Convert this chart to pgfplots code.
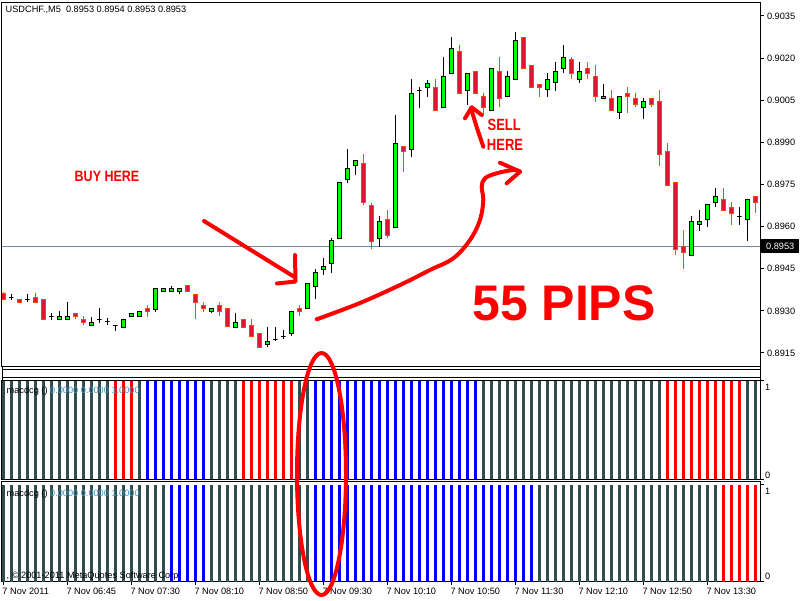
\documentclass[border=0pt]{standalone}
\usepackage{pgfplots}
\pgfplotsset{compat=1.18}
\usepackage{pgfplotstable}
\usepackage{fontspec}
\setmainfont{Liberation Sans}
\definecolor{bullfill}{RGB}{0,255,0}
\definecolor{bearfill}{RGB}{220,20,60}
\definecolor{bearline}{RGB}{255,69,0}
\definecolor{dsg}{RGB}{47,79,79}
\definecolor{ired}{RGB}{255,0,0}
\definecolor{iblue}{RGB}{0,0,255}
\definecolor{bidline}{RGB}{119,136,153}
\definecolor{annot}{RGB}{255,0,0}
\definecolor{valcol}{RGB}{70,150,190}
\newcommand\mtf{\fontsize{9.2}{10}\selectfont}

% USDCHF M5 candles: index, open, high, low, close
\pgfplotstableread{
k O H L C
0 0.89363 0.89368 0.89339 0.89341
1 0.89349 0.89359 0.89339 0.89349
2 0.89341 0.89341 0.89331 0.89331
3 0.89342 0.89359 0.89331 0.89342
4 0.89348 0.89363 0.89331 0.89331
5 0.89341 0.89341 0.89270 0.89270
6 0.89279 0.89291 0.89268 0.89279
7 0.89270 0.89300 0.89270 0.89281
8 0.89270 0.89333 0.89270 0.89281
9 0.89291 0.89291 0.89270 0.89281
10 0.89270 0.89282 0.89250 0.89259
11 0.89249 0.89279 0.89249 0.89259
12 0.89270 0.89309 0.89256 0.89270
13 0.89263 0.89274 0.89250 0.89263
14 0.89249 0.89249 0.89229 0.89249
15 0.89242 0.89270 0.89242 0.89270
16 0.89281 0.89291 0.89281 0.89291
17 0.89281 0.89298 0.89281 0.89298
18 0.89309 0.89320 0.89279 0.89298
19 0.89306 0.89380 0.89297 0.89380
20 0.89370 0.89380 0.89370 0.89380
21 0.89370 0.89389 0.89370 0.89380
22 0.89370 0.89380 0.89359 0.89380
23 0.89389 0.89389 0.89370 0.89370
24 0.89360 0.89360 0.89270 0.89331
25 0.89320 0.89333 0.89297 0.89309
26 0.89298 0.89309 0.89291 0.89309
27 0.89320 0.89331 0.89281 0.89298
28 0.89309 0.89309 0.89242 0.89246
29 0.89242 0.89291 0.89242 0.89259
30 0.89270 0.89270 0.89242 0.89242
31 0.89249 0.89270 0.89209 0.89209
32 0.89220 0.89220 0.89170 0.89170
33 0.89181 0.89242 0.89170 0.89192
34 0.89199 0.89242 0.89192 0.89199
35 0.89209 0.89231 0.89199 0.89209
36 0.89220 0.89298 0.89209 0.89298
37 0.89309 0.89320 0.89281 0.89298
38 0.89308 0.89398 0.89308 0.89398
39 0.89386 0.89449 0.89341 0.89437
40 0.89448 0.89487 0.89428 0.89458
41 0.89469 0.89558 0.89436 0.89549
42 0.89558 0.89758 0.89558 0.89758
43 0.89769 0.89875 0.89756 0.89808
44 0.89818 0.89836 0.89784 0.89836
45 0.89826 0.89859 0.89677 0.89685
46 0.89676 0.89685 0.89519 0.89546
47 0.89558 0.89638 0.89529 0.89619
48 0.89626 0.89659 0.89558 0.89569
49 0.89598 0.89998 0.89598 0.89897
50 0.89887 0.89887 0.89796 0.89867
51 0.89875 0.90125 0.89847 0.90075
52 0.90085 0.90098 0.90021 0.90085
53 0.90096 0.90122 0.90063 0.90108
54 0.90096 0.90125 0.90014 0.90014
55 0.90025 0.90205 0.90025 0.90134
56 0.90146 0.90276 0.90146 0.90235
57 0.90225 0.90247 0.90075 0.90075
58 0.90084 0.90146 0.90033 0.90146
59 0.90153 0.90153 0.90075 0.90075
60 0.90063 0.90077 0.89994 0.90025
61 0.90014 0.90164 0.90014 0.90164
62 0.90153 0.90203 0.90025 0.90056
63 0.90063 0.90154 0.90063 0.90134
64 0.90125 0.90294 0.90125 0.90262
65 0.90274 0.90274 0.90164 0.90164
66 0.90174 0.90174 0.90096 0.90096
67 0.90107 0.90107 0.90063 0.90096
68 0.90087 0.90147 0.90063 0.90125
69 0.90114 0.90186 0.90084 0.90153
70 0.90164 0.90247 0.90146 0.90203
71 0.90196 0.90203 0.90125 0.90146
72 0.90125 0.90186 0.90113 0.90153
73 0.90164 0.90186 0.90125 0.90146
74 0.90135 0.90174 0.90045 0.90064
75 0.90056 0.90108 0.90056 0.90064
76 0.90057 0.90087 0.90014 0.90014
77 0.90007 0.90064 0.89984 0.90064
78 0.90075 0.90098 0.90006 0.90064
79 0.90057 0.90077 0.90025 0.90036
80 0.90025 0.90057 0.89984 0.90046
81 0.90057 0.90057 0.90025 0.90036
82 0.90046 0.90087 0.89817 0.89858
83 0.89868 0.89897 0.89747 0.89747
84 0.89758 0.89758 0.89498 0.89519
85 0.89530 0.89588 0.89448 0.89507
86 0.89498 0.89638 0.89498 0.89619
87 0.89608 0.89659 0.89586 0.89619
88 0.89626 0.89677 0.89598 0.89677
89 0.89685 0.89738 0.89669 0.89709
90 0.89697 0.89738 0.89658 0.89658
91 0.89669 0.89688 0.89607 0.89647
92 0.89637 0.89669 0.89607 0.89637
93 0.89626 0.89697 0.89548 0.89697
94 0.89708 0.89708 0.89647 0.89687
}\ohlc

\pgfplotsset{
  mtpanel/.style={
    scale only axis, width=758pt,
    xmin=-0.1625, xmax=94.5875,
    axis line style={line width=1pt, black},
    tick style={line width=1pt, black},
    tick align=outside, major tick length=3.5pt,
  },
  ind/.style={ycomb, line width=3pt, forget plot},
}

\begin{document}
\begin{tikzpicture}
\useasboundingbox (0,0) rectangle (800pt,600pt);
\fill[white] (0,0) rectangle (800pt,600pt);

% ---------------- main price chart ----------------
\begin{axis}[mtpanel,
  at={(2pt,597pt)}, anchor=north west, height=364pt,
  ymin=0.891001, ymax=0.903963,
  xtick=\empty,
  ytick={0.8915,0.8930,0.8945,0.8960,0.8975,0.8990,0.9005,0.9020,0.9035},
  yticklabels={0.8915,0.8930,0.8945,0.8960,0.8975,0.8990,0.9005,0.9020,0.9035},
  ytick pos=right, yticklabel pos=right,
  yticklabel style={anchor=west, font=\mtf, text=black},
]
\addplot[bidline, line width=1pt, forget plot] coordinates {(-1,0.8953) (96,0.8953)};
\pgfplotsforeachungrouped \i in {0,...,94}{%
  \pgfplotstablegetelem{\i}{k}\of\ohlc\edef\vk{\pgfplotsretval}%
  \pgfplotstablegetelem{\i}{O}\of\ohlc\edef\vO{\pgfplotsretval}%
  \pgfplotstablegetelem{\i}{H}\of\ohlc\edef\vH{\pgfplotsretval}%
  \pgfplotstablegetelem{\i}{L}\of\ohlc\edef\vL{\pgfplotsretval}%
  \pgfplotstablegetelem{\i}{C}\of\ohlc\edef\vC{\pgfplotsretval}%
  \pgfmathtruncatemacro\ctype{\vC>\vO ? 1 : (\vC<\vO ? 2 : 0)}%
  \ifnum\ctype=1 \def\wc{black}\def\fc{bullfill}\fi
  \ifnum\ctype=2 \def\wc{bearline}\def\fc{bearfill}\fi
  \ifnum\ctype=0 \def\wc{black}\def\fc{black}\fi
  \pgfmathsetmacro\xa{\vk-0.275}%
  \pgfmathsetmacro\xb{\vk+0.275}%
  \edef\cmd{%
    \noexpand\addplot[draw=\wc, line width=1pt, forget plot] coordinates {(\vk,\vL) (\vk,\vH)};
    \noexpand\addplot[draw=\wc, fill=\fc, line width=1pt, line cap=rect, forget plot] coordinates {(\xa,\vO) (\xb,\vO) (\xb,\vC) (\xa,\vC) (\xa,\vO)};
  }\cmd
}
\end{axis}

% ---------------- indicator panel 1 ----------------
\begin{axis}[mtpanel,
  at={(2pt,219.5pt)}, anchor=north west, height=98.5pt,
  ymin=0, ymax=1.005,
  xtick=\empty, ytick={0,1}, yticklabels={,}, ytick pos=right,
]
\addplot[ind, dsg] coordinates {(0,1)(1,1)(2,1)(3,1)(4,1)(5,1)(6,1)(7,1)(8,1)(9,1)(10,1)(11,1)(12,1)(13,1)(17,1)(26,1)(27,1)(28,1)(29,1)(37,1)(38,1)(60,1)(61,1)(62,1)(63,1)(64,1)(65,1)(66,1)(67,1)(68,1)(69,1)(70,1)(71,1)(72,1)(73,1)(74,1)(75,1)(76,1)(77,1)(78,1)(79,1)(80,1)(81,1)(82,1)(93,1)(94,1)};
\addplot[ind, ired] coordinates {(14,1)(15,1)(16,1)(30,1)(31,1)(32,1)(33,1)(34,1)(35,1)(36,1)(83,1)(84,1)(85,1)(86,1)(87,1)(88,1)(89,1)(90,1)(91,1)(92,1)};
\addplot[ind, iblue] coordinates {(18,1)(19,1)(20,1)(21,1)(22,1)(23,1)(24,1)(25,1)(39,1)(40,1)(41,1)(42,1)(43,1)(44,1)(45,1)(46,1)(47,1)(48,1)(49,1)(50,1)(51,1)(52,1)(53,1)(54,1)(55,1)(56,1)(57,1)(58,1)(59,1)};
\end{axis}

% ---------------- indicator panel 2 ----------------
\begin{axis}[mtpanel,
  at={(2pt,118.5pt)}, anchor=north west, height=100pt,
  ymin=0, ymax=1.036,
  ytick={0,1}, yticklabels={,}, ytick pos=right,
  xtick={0,8,16,24,32,40,48,56,64,72,80,88},
  xticklabels={7 Nov 2011,7 Nov 06:45,7 Nov 07:30,7 Nov 08:10,7 Nov 08:50,7 Nov 09:30,7 Nov 10:10,7 Nov 10:50,7 Nov 11:30,7 Nov 12:10,7 Nov 12:50,7 Nov 13:30},
  xtick pos=bottom,
  xticklabel style={anchor=north west, font=\mtf, xshift=-2pt, yshift=-1.5pt, inner sep=1pt},
]
\addplot[ind, dsg] coordinates {(0,1)(1,1)(2,1)(3,1)(4,1)(5,1)(6,1)(7,1)(8,1)(9,1)(10,1)(11,1)(12,1)(13,1)(14,1)(15,1)(16,1)(17,1)(18,1)(19,1)(20,1)(26,1)(27,1)(28,1)(29,1)(30,1)(31,1)(32,1)(33,1)(34,1)(35,1)(36,1)(37,1)(38,1)(67,1)(68,1)(69,1)(70,1)(71,1)(72,1)(73,1)(74,1)(75,1)(76,1)(77,1)(78,1)(79,1)(80,1)(81,1)(82,1)(83,1)(84,1)(85,1)(86,1)(87,1)(88,1)(89,1)};
\addplot[ind, iblue] coordinates {(21,1)(22,1)(23,1)(24,1)(25,1)(39,1)(40,1)(41,1)(42,1)(43,1)(44,1)(45,1)(46,1)(47,1)(48,1)(49,1)(50,1)(51,1)(52,1)(53,1)(54,1)(55,1)(56,1)(57,1)(58,1)(59,1)(60,1)(61,1)(62,1)(63,1)(64,1)(65,1)(66,1)};
\addplot[ind, ired] coordinates {(90,1)(91,1)(92,1)(93,1)(94,1)};
\end{axis}

% ---------------- frame details, labels, annotations ----------------
\begin{scope}[x=1pt, y=1pt]
\draw[line width=1pt] (2,230.5) -- (760,230.5);
\draw[line width=1pt] (2,222) -- (760,222);
\draw[line width=1pt] (2,233) -- (2,219.5) (760,233) -- (760,219.5);
\node[anchor=west, font=\mtf, inner sep=0pt] at (5.5,590) {USDCHF.,M5\ \ 0.8953 0.8954 0.8953 0.8953};
\node[anchor=west, font=\mtf, inner sep=0pt] at (6.5,209) {macdcg () \textcolor{valcol}{0.0000 0.0000 1.0000}};
\node[anchor=west, font=\mtf, inner sep=0pt] at (6.5,106) {macdcg () \textcolor{valcol}{0.0000 0.0000 1.0000}};
\node[anchor=west, font=\mtf, inner sep=0pt] at (6.5,24.3) {, \textcopyright{} 2001-2011 MetaQuotes Software Corp.};
\node[anchor=west, font=\mtf, inner sep=0pt] at (765,213) {1};
\node[anchor=west, font=\mtf, inner sep=0pt] at (765,125) {0};
\node[anchor=west, font=\mtf, inner sep=0pt] at (765,109) {1};
\node[anchor=west, font=\mtf, inner sep=0pt] at (765,24) {0};
\node[anchor=west, fill=black, text=white, font=\mtf, minimum width=38pt, minimum height=14.5pt, inner sep=0pt] at (761,354) {0.8953};
% hand-drawn annotations
\begin{scope}[annot, line width=4pt, line cap=round, line join=round]
\draw (204,379) -- (294,323.3);
\draw (295,345) -- (295.5,318.5) -- (277,316.5);
\draw plot[smooth, tension=0.6] coordinates {(316.7,280.7) (360,297) (400,315) (430,330) (453.3,341.7) (470,360) (480,380) (483.3,400) (481.7,413.3) (485,421.7) (496.7,426.7) (513.3,430) (520,428.3)};
\draw (500,437.3) -- (520,428.3) -- (506.7,416.7);
\draw plot[smooth] coordinates {(483.3,453.3) (477,472) (471,491.7)};
\draw (465,481.7) -- (471.7,492.7) -- (481.7,485);
\draw (321.5,126) ellipse [x radius=24.5pt, y radius=121pt];
\end{scope}
\node[text=annot, font=\fontsize{12.5}{14}\selectfont\bfseries] at (107,424) {\scalebox{1}[1.2]{BUY HERE}};
\node[text=annot, font=\fontsize{13}{14}\selectfont\bfseries] at (504.2,475.3) {\scalebox{1}[1.25]{SELL}};
\node[text=annot, font=\fontsize{13}{14}\selectfont\bfseries] at (505,455.5) {\scalebox{1}[1.25]{HERE}};
\node[text=annot, font=\fontsize{50}{55}\selectfont\bfseries] at (564,296.5) {55 PIPS};
\end{scope}
\end{tikzpicture}
\end{document}
